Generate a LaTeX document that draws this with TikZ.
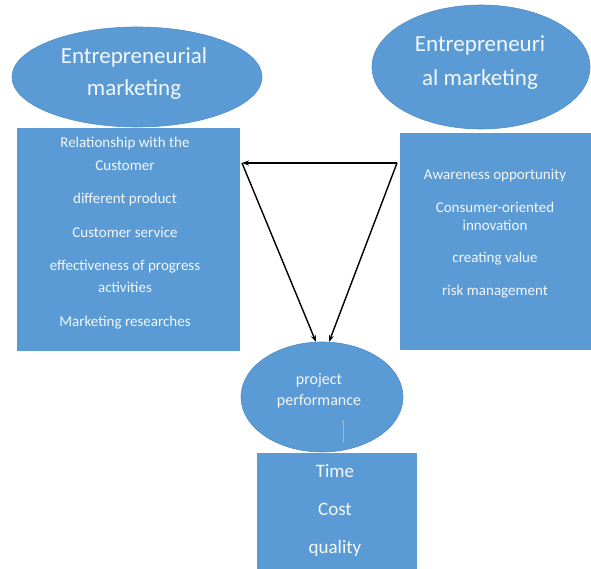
\documentclass[tikz,border=0pt]{standalone}
\usepackage{fontspec}
\setmainfont{Carlito}
\usetikzlibrary{shapes.geometric,arrows.meta}
\definecolor{boxblue}{HTML}{5B9BD5}
\definecolor{edgeblue}{HTML}{4F8DC9}
\definecolor{softwhite}{HTML}{F2F7FC}
\begin{document}
\begin{tikzpicture}[x=1pt,y=-1pt,
  oval/.style={ellipse,fill=boxblue,draw=edgeblue,line width=0.6pt,inner sep=0pt},
  panel/.style={rectangle,fill=boxblue,draw=none,inner sep=0pt,anchor=north west},
  bigtxt/.style={text=softwhite,font=\fontsize{23}{26}\selectfont,anchor=mid},
  smalltxt/.style={text=softwhite,font=\fontsize{15}{17}\selectfont,anchor=mid},
  ovaltxt/.style={text=softwhite,font=\fontsize{16}{18}\selectfont,anchor=mid},
  midtxt/.style={text=softwhite,font=\fontsize{19}{21}\selectfont,anchor=mid},
  link/.style={draw=black,line width=1.4pt,-{Stealth[length=7pt,width=5pt]}},
  faint/.style={draw=gray!60,line width=0.8pt}
]
\useasboundingbox (0,0) rectangle (591,569);
\fill[white] (0,0) rectangle (591,569);

% left ellipse and panel
\node[oval,minimum width=250pt,minimum height=100pt] (LE) at (137,77) {};
\node[bigtxt] (LE1) at (134,61) {Entrepreneurial};
\node[bigtxt] (LE2) at (134,93) {marketing};
\node[panel,minimum width=223pt,minimum height=223pt] (L) at (17,128) {};
\node[smalltxt] (L1) at (125,145) {Relationship with the};
\node[smalltxt] (L2) at (125,168) {Customer};
\node[smalltxt] (L3) at (125,201) {different product};
\node[smalltxt] (L4) at (125,235) {Customer service};
\node[smalltxt] (L5) at (125,268) {effectiveness of progress};
\node[smalltxt] (L6) at (125,290) {activities};
\node[smalltxt] (L7) at (125,324) {Marketing researches};

% right ellipse and panel
\node[oval,minimum width=218pt,minimum height=124pt] (RE) at (481,67) {};
\node[bigtxt] (RE1) at (480,49) {Entrepreneuri};
\node[bigtxt] (RE2) at (480,83) {al marketing};
\node[panel,minimum width=191pt,minimum height=217pt] (R) at (400,133) {};
\node[smalltxt] (R1) at (495,177) {Awareness opportunity};
\node[smalltxt] (R2) at (495,210) {Consumer-oriented};
\node[smalltxt] (R3) at (495,228) {innovation};
\node[smalltxt] (R4) at (495,260) {creating value};
\node[smalltxt] (R5) at (495,293) {risk management};

% bottom ellipse and panel
\node[oval,minimum width=162pt,minimum height=110pt] (P) at (322,397) {};
\node[ovaltxt] (P1) at (319,382) {project};
\node[ovaltxt] (P2) at (319,403) {performance};
\node[panel,minimum width=160pt,minimum height=116pt] (B) at (257,453) {};
\node[midtxt] (B1) at (335,475) {Time};
\node[midtxt] (B2) at (335,513) {Cost};
\node[midtxt] (B3) at (335,551) {quality};

% connectors
\coordinate (a) at (242,163);
\coordinate (b) at (397,163);
\coordinate (pa) at (316,342);
\coordinate (pb) at (329,342);
\coordinate (s1) at (343,420);
\coordinate (s2) at (343,443);
\draw[link] (b) -- (a);
\draw[link] (a) -- (pa);
\draw[link] (b) -- (pb);
\draw[faint,-{Stealth[length=3pt,width=3pt]}] (s2) -- (s1);
\end{tikzpicture}
\end{document}
